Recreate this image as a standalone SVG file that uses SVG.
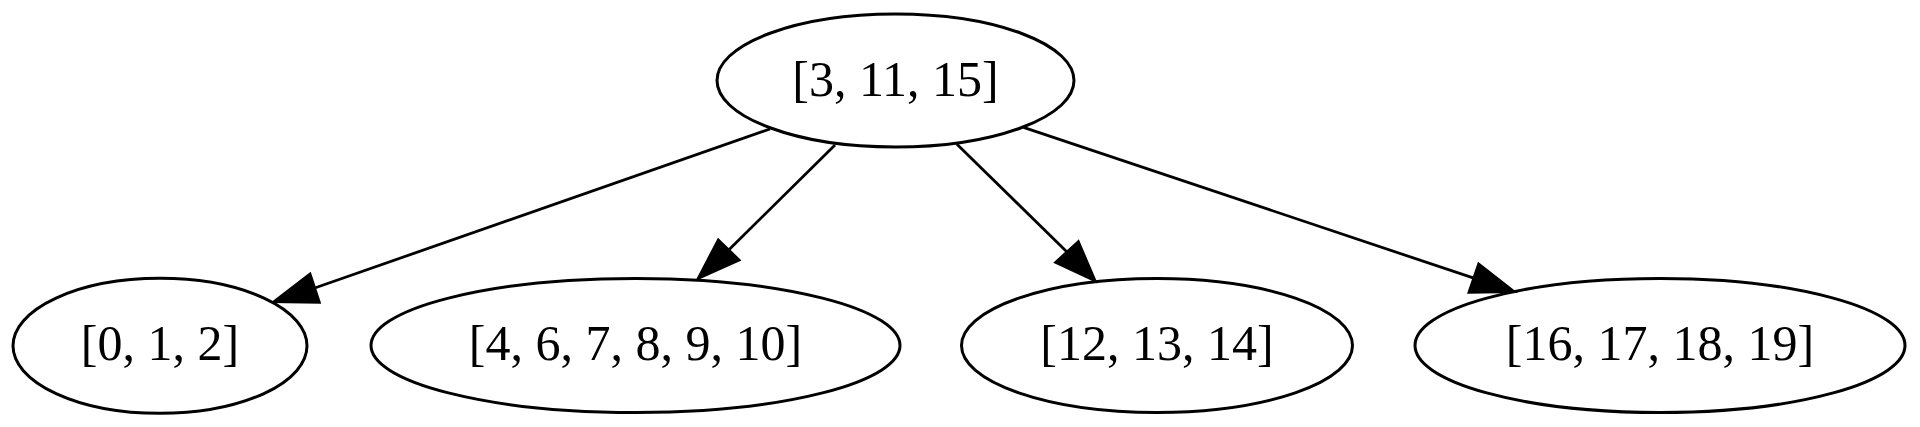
<svg xmlns="http://www.w3.org/2000/svg" width="1920" height="427" viewBox="0 0 1920 427">
<style>
  .node ellipse { fill: none; stroke: #000; stroke-width: 3; }
  .node text { font-family: "Liberation Serif", "Times New Roman", serif; font-size: 50px; text-anchor: middle; fill: #000; }
  .edge line { stroke: #000; stroke-width: 2.8; }
  .edge polygon { fill: #000; stroke: #000; stroke-width: 2.8; }
</style>
<rect width="1920" height="427" fill="#fff"/>
<g id="connectors">
  <g class="edge" id="e_root_a">
    <line x1="770" y1="129" x2="314.7" y2="288"/>
    <polygon points="310,274 319.3,302.3 274,301.7"/>
  </g>
  <g class="edge" id="e_root_b">
    <line x1="835" y1="145" x2="728.7" y2="250"/>
    <polygon points="718.3,240 739,260 698.3,278.3"/>
  </g>
  <g class="edge" id="e_root_c">
    <line x1="956.7" y1="144" x2="1067" y2="252"/>
    <polygon points="1078.3,241.7 1055.7,262.3 1095,280.7"/>
  </g>
  <g class="edge" id="e_root_d">
    <line x1="1023.5" y1="127.3" x2="1473.9" y2="278.2"/>
    <polygon points="1478.7,264 1469,292.3 1514,291.7"/>
  </g>
</g>
<g class="node" id="node_root">
  <ellipse cx="895.5" cy="80.5" rx="178.5" ry="66.5"/>
  <text x="895.5" y="96">[3, 11, 15]</text>
</g>
<g class="node" id="node_a">
  <ellipse cx="160" cy="345.8" rx="147" ry="67.5"/>
  <text x="160" y="360">[0, 1, 2]</text>
</g>
<g class="node" id="node_b">
  <ellipse cx="635.5" cy="345.5" rx="264.5" ry="67"/>
  <text x="635.5" y="360">[4, 6, 7, 8, 9, 10]</text>
</g>
<g class="node" id="node_c">
  <ellipse cx="1157" cy="345.5" rx="195.5" ry="67"/>
  <text x="1157" y="360">[12, 13, 14]</text>
</g>
<g class="node" id="node_d">
  <ellipse cx="1660" cy="345.5" rx="245" ry="67"/>
  <text x="1660" y="360">[16, 17, 18, 19]</text>
</g>
</svg>
